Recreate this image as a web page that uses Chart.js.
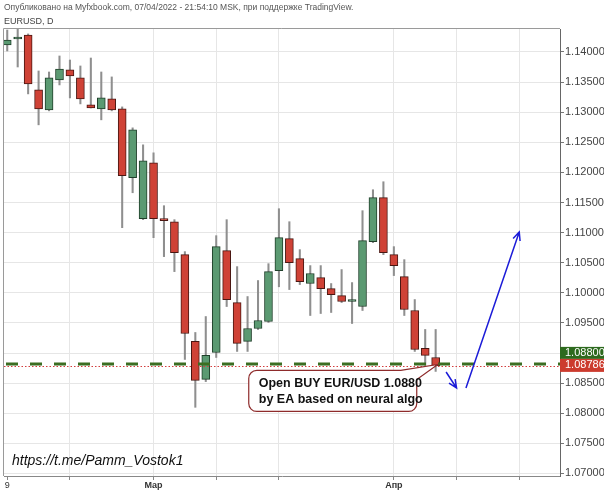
<!DOCTYPE html>
<html>
<head>
<meta charset="utf-8">
<script src="https://cdn.jsdelivr.net/npm/chart.js@4"></script>
<style>
  html, body { margin: 0; padding: 0; background: #fff; }
  #myChart { display: block; }
</style>
</head>
<body>
<canvas id="myChart" width="604" height="492"></canvas>
<script>
// EURUSD daily, 09.02.2022 - 07.04.2022
const dates = [
  '09.02', '10.02', '11.02', '14.02', '15.02', '16.02', '17.02', '18.02', '21.02', '22.02',
  '23.02', '24.02', '25.02', '28.02', '01.03', '02.03', '03.03', '04.03', '07.03', '08.03',
  '09.03', '10.03', '11.03', '14.03', '15.03', '16.03', '17.03', '18.03', '21.03', '22.03',
  '23.03', '24.03', '25.03', '28.03', '29.03', '30.03', '31.03', '01.04', '04.04', '05.04',
  '06.04', '07.04'
];
const open = [
  1.14116, 1.14216, 1.14282, 1.13370, 1.13038, 1.13536, 1.13702, 1.13569, 1.13121, 1.13055,
  1.13221, 1.13055, 1.11911, 1.11231, 1.12160, 1.11215, 1.11181, 1.10634, 1.09192, 1.08562,
  1.09009, 1.10701, 1.09838, 1.09192, 1.09407, 1.09523, 1.10369, 1.10900, 1.10568, 1.10154,
  1.10253, 1.10070, 1.09954, 1.09855, 1.09772, 1.10850, 1.11580, 1.10634, 1.10270, 1.09706,
  1.09076, 1.08926
];
const high = [
  1.14365, 1.14400, 1.14300, 1.13685, 1.13668, 1.13934, 1.13867, 1.13768, 1.13900, 1.13668,
  1.13586, 1.13088, 1.12740, 1.12458, 1.12325, 1.11447, 1.11215, 1.10684, 1.09341, 1.09606,
  1.10949, 1.11215, 1.10435, 1.09938, 1.10204, 1.10484, 1.11397, 1.11181, 1.10717, 1.10452,
  1.10452, 1.10154, 1.10386, 1.10170, 1.11364, 1.11712, 1.11845, 1.10767, 1.10551, 1.09888,
  1.09391, 1.09391
];
const low = [
  1.14017, 1.13751, 1.13304, 1.12790, 1.13022, 1.13453, 1.13237, 1.13138, 1.13070, 1.12873,
  1.13022, 1.11082, 1.11662, 1.11215, 1.10916, 1.10601, 1.10352, 1.08893, 1.08098, 1.08525,
  1.08926, 1.09772, 1.09026, 1.09026, 1.09390, 1.09507, 1.10100, 1.10054, 1.10137, 1.09623,
  1.09656, 1.09673, 1.09838, 1.09490, 1.09706, 1.10833, 1.10634, 1.10286, 1.09623, 1.09026,
  1.08794, 1.08694
];
const close = [
  1.14199, 1.14249, 1.13470, 1.13055, 1.13569, 1.13718, 1.13602, 1.13221, 1.13072, 1.13237,
  1.13038, 1.11944, 1.12707, 1.12193, 1.11231, 1.11198, 1.10667, 1.09324, 1.08545, 1.08960,
  1.10767, 1.09888, 1.09159, 1.09407, 1.09540, 1.10352, 1.10916, 1.10502, 1.10187, 1.10320,
  1.10070, 1.09971, 1.09855, 1.09871, 1.10867, 1.11580, 1.10667, 1.10452, 1.09722, 1.09059,
  1.08960, 1.08786
];

// x-axis ticks (bar index) and their labels
const xTickIdx = [0, 6, 14, 20, 26, 37, 43, 49];
const xTickLabels = ['9', '', 'Мар', '', '', 'Апр', '', ''];

// signal level and last price
const entryPrice = 1.088;
const lastPrice = 1.08786;

// drawings, in [bar index, price]
const calloutTip = [41.2, 1.0881];
const calloutText = ['Open BUY EUR/USD 1.0880', 'by EA based on neural algo'];
const arrows = [
  [[42.0, 1.08684], [43.0, 1.08419]],
  [[43.9, 1.08419], [49.0, 1.11010]]
];

const headerText = 'Опубликовано на Myfxbook.com, 07/04/2022 - 21:54:10 MSK, при поддержке TradingView.';
const symbolText = 'EURUSD, D';
const watermark = 'https://t.me/Pamm_Vostok1';

const FONT = "Arial, 'Liberation Sans', sans-serif";
const UP = '#5b9a72', DOWN = '#cf4236';
const UP_EDGE = '#1f3f2a', DOWN_EDGE = '#4a1712';

function isUp(i) { return close[i] >= open[i]; }

function drawArrow(ctx, x1, y1, x2, y2) {
  const a = Math.atan2(y2 - y1, x2 - x1);
  const len = 9, spread = 0.42;
  ctx.beginPath();
  ctx.moveTo(x1, y1);
  ctx.lineTo(x2, y2);
  ctx.moveTo(x2 - len * Math.cos(a - spread), y2 - len * Math.sin(a - spread));
  ctx.lineTo(x2, y2);
  ctx.lineTo(x2 - len * Math.cos(a + spread), y2 - len * Math.sin(a + spread));
  ctx.stroke();
}

const decor = {
  id: 'decor',
  beforeDraw(chart) {
    const ctx = chart.ctx;
    ctx.save();
    ctx.fillStyle = '#fff';
    ctx.fillRect(0, 0, chart.width, chart.height);
    ctx.restore();
  },
  afterDraw(chart) {
    const ctx = chart.ctx;
    const area = chart.chartArea;
    const xs = chart.scales.x, ys = chart.scales.y;
    ctx.save();

    // hide the part of the lowest price label under the time axis
    ctx.fillStyle = '#fff';
    ctx.fillRect(area.right + 1, area.bottom + 1, chart.width - area.right, chart.height - area.bottom);

    // frame
    ctx.strokeStyle = '#9a9a9a';
    ctx.lineWidth = 1;
    ctx.beginPath();
    ctx.moveTo(area.left - 0.5, area.bottom);
    ctx.lineTo(area.left - 0.5, area.top - 0.5);
    ctx.lineTo(area.right, area.top - 0.5);
    ctx.stroke();

    // header
    ctx.fillStyle = '#555';
    ctx.textBaseline = 'middle';
    ctx.textAlign = 'left';
    ctx.font = '8.5px ' + FONT;
    ctx.fillText(headerText, 4, 8);
    ctx.fillStyle = '#444';
    ctx.font = '9px ' + FONT;
    ctx.fillText(symbolText, 4, 22);

    // level lines
    const yE = ys.getPixelForValue(entryPrice);
    const yL = ys.getPixelForValue(lastPrice);
    ctx.beginPath();
    ctx.rect(area.left, area.top, area.right - area.left, area.bottom - area.top);
    ctx.clip();
    ctx.strokeStyle = '#3b6e22';
    ctx.lineWidth = 3;
    ctx.setLineDash([12, 12]);
    ctx.lineDashOffset = -2;
    ctx.beginPath();
    ctx.moveTo(area.left, yE - 1);
    ctx.lineTo(area.right, yE - 1);
    ctx.stroke();
    ctx.strokeStyle = '#d23c3c';
    ctx.lineWidth = 1;
    ctx.setLineDash([1.5, 2]);
    ctx.lineDashOffset = 0;
    ctx.beginPath();
    ctx.moveTo(area.left, Math.round(yL) + 0.5);
    ctx.lineTo(area.right, Math.round(yL) + 0.5);
    ctx.stroke();
    ctx.setLineDash([]);

    // blue arrows
    ctx.strokeStyle = '#1c1cd8';
    ctx.lineWidth = 1.5;
    arrows.forEach(([a, b]) => {
      drawArrow(ctx,
        xs.getPixelForValue(a[0]), ys.getPixelForValue(a[1]),
        xs.getPixelForValue(b[0]), ys.getPixelForValue(b[1]));
    });

    // callout
    const tx = xs.getPixelForValue(calloutTip[0]);
    const ty = ys.getPixelForValue(calloutTip[1]);
    const L = tx - 189, R = tx - 21, T = ty + 6, B = ty + 47, r = 8;
    ctx.beginPath();
    ctx.moveTo(L + r, T);
    ctx.lineTo(R - 16, T);
    ctx.lineTo(tx, ty);
    ctx.lineTo(R, T + 9);
    ctx.lineTo(R, B - r);
    ctx.arcTo(R, B, R - r, B, r);
    ctx.lineTo(L + r, B);
    ctx.arcTo(L, B, L, B - r, r);
    ctx.lineTo(L, T + r);
    ctx.arcTo(L, T, L + r, T, r);
    ctx.closePath();
    ctx.fillStyle = '#fff';
    ctx.fill();
    ctx.strokeStyle = '#8e2b2b';
    ctx.lineWidth = 1.2;
    ctx.stroke();
    ctx.fillStyle = '#111';
    ctx.font = 'bold 12.5px ' + FONT;
    ctx.fillText(calloutText[0], L + 10, T + 13);
    ctx.fillText(calloutText[1], L + 10, T + 29);

    // watermark
    ctx.font = 'italic 14px ' + FONT;
    ctx.fillStyle = '#111';
    ctx.fillText(watermark, 12, 461);
    ctx.restore();

    // price labels on the axis
    ctx.save();
    ctx.font = '11px ' + FONT;
    ctx.textBaseline = 'middle';
    ctx.fillStyle = '#2d6a1e';
    ctx.fillRect(area.right, yL - 19, chart.width - area.right, 12);
    ctx.fillStyle = '#cc3b2e';
    ctx.fillRect(area.right, yL - 7, chart.width - area.right, 13);
    ctx.fillStyle = '#fff';
    ctx.fillText(entryPrice.toFixed(5), area.right + 5, yL - 13);
    ctx.fillText(lastPrice.toFixed(5), area.right + 5, yL - 0.5);
    ctx.restore();
  }
};

const data = {
  datasets: [
    {
      label: 'wick',
      data: dates.map((d, i) => ({ x: i, y: [low[i], high[i]] })),
      backgroundColor: '#8f8f8f',
      barThickness: 1.4,
      grouped: false,
      order: 2
    },
    {
      label: 'EURUSD',
      data: dates.map((d, i) => ({ x: i, y: [open[i], close[i]] })),
      backgroundColor: ctx => isUp(ctx.dataIndex) ? UP : DOWN,
      borderColor: ctx => isUp(ctx.dataIndex) ? UP_EDGE : DOWN_EDGE,
      borderWidth: 1,
      borderSkipped: false,
      barThickness: 8,
      minBarLength: 2,
      grouped: false,
      order: 1
    }
  ]
};

const config = {
  type: 'bar',
  data: data,
  options: {
    responsive: false,
    animation: false,
    devicePixelRatio: 1,
    layout: { padding: { left: 4, top: 29, right: 0, bottom: 0 } },
    plugins: {
      legend: { display: false },
      tooltip: { enabled: false }
    },
    scales: {
      x: {
        type: 'linear',
        offset: false,
        min: -0.31,
        max: 52.9,
        afterBuildTicks: scale => { scale.ticks = xTickIdx.map(v => ({ value: v })); },
        afterFit: scale => { scale.height = 16; },
        grid: {
          offset: false,
          color: ctx => (ctx.tick && ctx.tick.value === 0) ? 'rgba(0,0,0,0)' : '#e6e6e6',
          tickColor: '#888',
          tickLength: 4
        },
        border: { color: '#888' },
        ticks: {
          autoSkip: false,
          maxRotation: 0,
          padding: 0,
          color: '#333',
          font: ctx => ({
            size: 9,
            family: FONT,
            weight: (ctx.tick && xTickLabels[xTickIdx.indexOf(ctx.tick.value)] !== '9') ? 'bold' : 'normal'
          }),
          callback: v => {
            const k = xTickIdx.indexOf(v);
            return k >= 0 ? xTickLabels[k] : '';
          }
        }
      },
      y: {
        position: 'right',
        min: 1.06957,
        max: 1.14382,
        afterFit: scale => { scale.width = 44; },
        grid: { color: '#e6e6e6', tickColor: '#777', tickLength: 4 },
        border: { color: '#666' },
        ticks: {
          stepSize: 0.005,
          includeBounds: false,
          padding: 1,
          color: '#444',
          font: { size: 11, family: FONT },
          callback: v => v.toFixed(5)
        }
      }
    }
  },
  plugins: [decor]
};

new Chart(document.getElementById('myChart'), config);
</script>
</body>
</html>
